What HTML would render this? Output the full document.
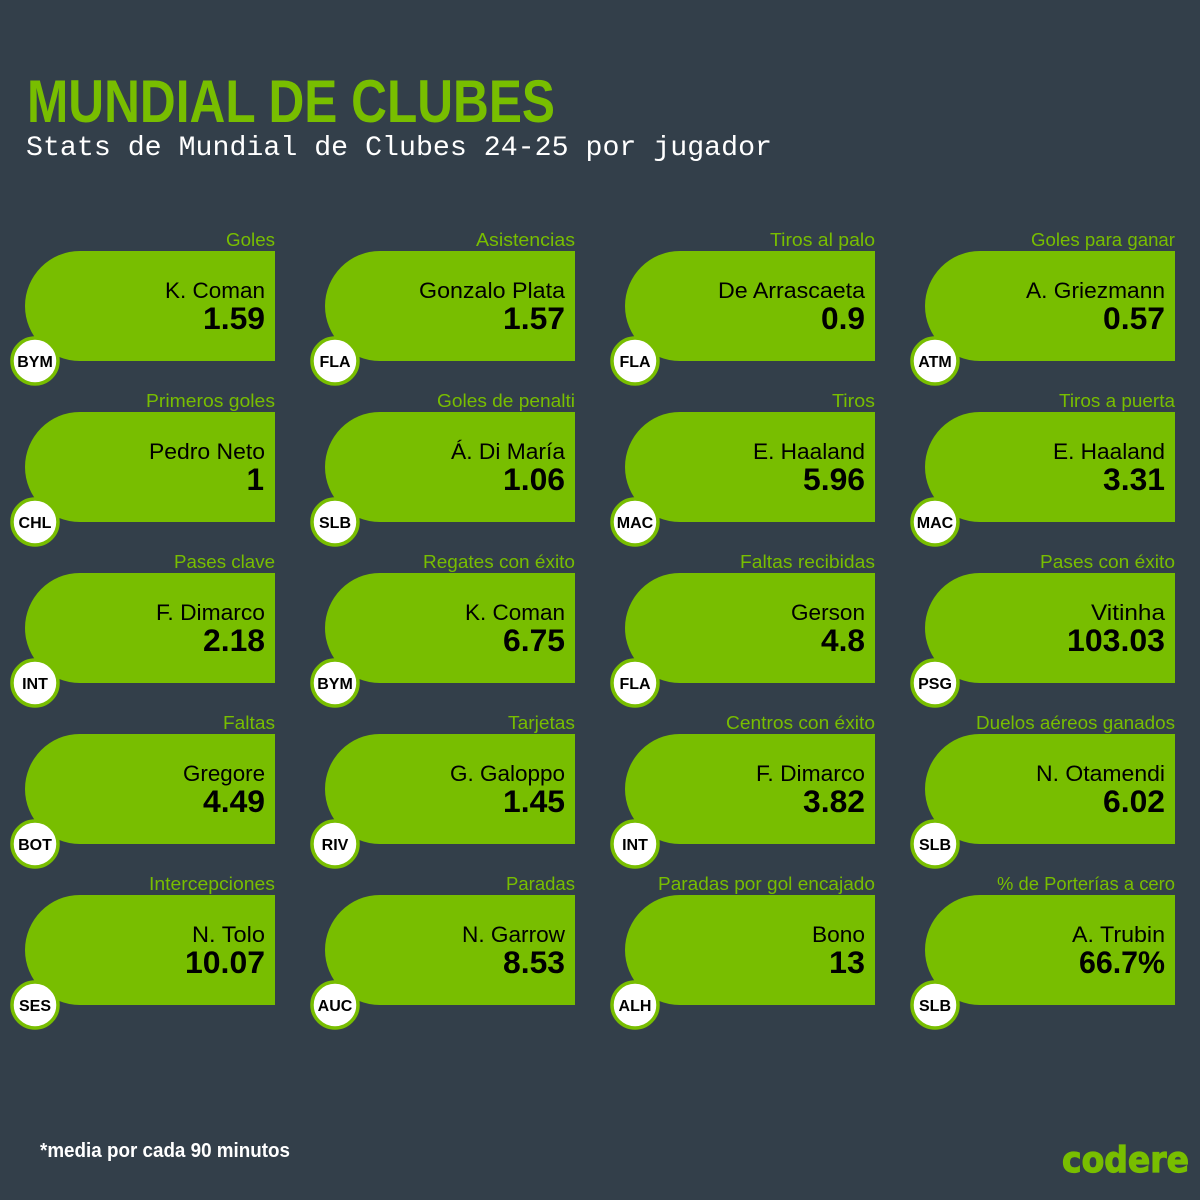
<!DOCTYPE html>
<html lang="es">
<head>
<meta charset="utf-8">
<title>Mundial de Clubes</title>
<style>
html,body{margin:0;padding:0;background:#333f4a;}
svg{display:block;}
text{font-family:"Liberation Sans",sans-serif;}
.lab{font-size:18.5px;fill:#78be00;text-anchor:end;}
.nam{font-size:22.5px;fill:#000;text-anchor:end;}
.val{font-size:31.5px;font-weight:bold;fill:#000;text-anchor:end;}
.tm{font-size:16px;font-weight:bold;fill:#000;text-anchor:middle;}
.bg{fill:#78be00;}
.bd{fill:#fff;stroke:#78be00;stroke-width:3.5;}
</style>
</head>
<body>
<svg width="1200" height="1200" viewBox="0 0 1200 1200" xmlns="http://www.w3.org/2000/svg">
<defs><path id="shape" d="M80 251H275V361H80A55 55 0 0 1 80 251Z"/></defs>
<rect width="1200" height="1200" fill="#333f4a"/>
<text x="27" y="122" font-size="60" font-weight="bold" fill="#78be00" textLength="528" lengthAdjust="spacingAndGlyphs">MUNDIAL DE CLUBES</text>
<text x="26" y="155" font-size="28" fill="#fff" style="font-family:'Liberation Mono',monospace" textLength="746" lengthAdjust="spacingAndGlyphs">Stats de Mundial de Clubes 24-25 por jugador</text>

<g transform="translate(0,0)"><text class="lab" x="275" y="246" textLength="49" lengthAdjust="spacingAndGlyphs">Goles</text><use href="#shape" class="bg"/><text class="nam" x="265" y="298" textLength="100" lengthAdjust="spacingAndGlyphs">K. Coman</text><text class="val" x="265" y="329" textLength="62" lengthAdjust="spacingAndGlyphs">1.59</text><circle class="bd" cx="35" cy="361" r="23"/><text class="tm" x="35" y="367">BYM</text></g>
<g transform="translate(300,0)"><text class="lab" x="275" y="246" textLength="99" lengthAdjust="spacingAndGlyphs">Asistencias</text><use href="#shape" class="bg"/><text class="nam" x="265" y="298" textLength="146" lengthAdjust="spacingAndGlyphs">Gonzalo Plata</text><text class="val" x="265" y="329" textLength="62" lengthAdjust="spacingAndGlyphs">1.57</text><circle class="bd" cx="35" cy="361" r="23"/><text class="tm" x="35" y="367">FLA</text></g>
<g transform="translate(600,0)"><text class="lab" x="275" y="246" textLength="105" lengthAdjust="spacingAndGlyphs">Tiros al palo</text><use href="#shape" class="bg"/><text class="nam" x="265" y="298" textLength="147" lengthAdjust="spacingAndGlyphs">De Arrascaeta</text><text class="val" x="265" y="329" textLength="44" lengthAdjust="spacingAndGlyphs">0.9</text><circle class="bd" cx="35" cy="361" r="23"/><text class="tm" x="35" y="367">FLA</text></g>
<g transform="translate(900,0)"><text class="lab" x="275" y="246" textLength="144" lengthAdjust="spacingAndGlyphs">Goles para ganar</text><use href="#shape" class="bg"/><text class="nam" x="265" y="298" textLength="139" lengthAdjust="spacingAndGlyphs">A. Griezmann</text><text class="val" x="265" y="329" textLength="62" lengthAdjust="spacingAndGlyphs">0.57</text><circle class="bd" cx="35" cy="361" r="23"/><text class="tm" x="35" y="367">ATM</text></g>

<g transform="translate(0,161)"><text class="lab" x="275" y="246" textLength="129" lengthAdjust="spacingAndGlyphs">Primeros goles</text><use href="#shape" class="bg"/><text class="nam" x="265" y="298" textLength="116" lengthAdjust="spacingAndGlyphs">Pedro Neto</text><text class="val" x="264" y="329">1</text><circle class="bd" cx="35" cy="361" r="23"/><text class="tm" x="35" y="367">CHL</text></g>
<g transform="translate(300,161)"><text class="lab" x="275" y="246" textLength="138" lengthAdjust="spacingAndGlyphs">Goles de penalti</text><use href="#shape" class="bg"/><text class="nam" x="265" y="298" textLength="114" lengthAdjust="spacingAndGlyphs">Á. Di María</text><text class="val" x="265" y="329" textLength="62" lengthAdjust="spacingAndGlyphs">1.06</text><circle class="bd" cx="35" cy="361" r="23"/><text class="tm" x="35" y="367">SLB</text></g>
<g transform="translate(600,161)"><text class="lab" x="275" y="246" textLength="43" lengthAdjust="spacingAndGlyphs">Tiros</text><use href="#shape" class="bg"/><text class="nam" x="265" y="298" textLength="112" lengthAdjust="spacingAndGlyphs">E. Haaland</text><text class="val" x="265" y="329" textLength="62" lengthAdjust="spacingAndGlyphs">5.96</text><circle class="bd" cx="35" cy="361" r="23"/><text class="tm" x="35" y="367">MAC</text></g>
<g transform="translate(900,161)"><text class="lab" x="275" y="246" textLength="116" lengthAdjust="spacingAndGlyphs">Tiros a puerta</text><use href="#shape" class="bg"/><text class="nam" x="265" y="298" textLength="112" lengthAdjust="spacingAndGlyphs">E. Haaland</text><text class="val" x="265" y="329" textLength="62" lengthAdjust="spacingAndGlyphs">3.31</text><circle class="bd" cx="35" cy="361" r="23"/><text class="tm" x="35" y="367">MAC</text></g>

<g transform="translate(0,322)"><text class="lab" x="275" y="246" textLength="101" lengthAdjust="spacingAndGlyphs">Pases clave</text><use href="#shape" class="bg"/><text class="nam" x="265" y="298" textLength="109" lengthAdjust="spacingAndGlyphs">F. Dimarco</text><text class="val" x="265" y="329" textLength="62" lengthAdjust="spacingAndGlyphs">2.18</text><circle class="bd" cx="35" cy="361" r="23"/><text class="tm" x="35" y="367">INT</text></g>
<g transform="translate(300,322)"><text class="lab" x="275" y="246" textLength="152" lengthAdjust="spacingAndGlyphs">Regates con éxito</text><use href="#shape" class="bg"/><text class="nam" x="265" y="298" textLength="100" lengthAdjust="spacingAndGlyphs">K. Coman</text><text class="val" x="265" y="329" textLength="62" lengthAdjust="spacingAndGlyphs">6.75</text><circle class="bd" cx="35" cy="361" r="23"/><text class="tm" x="35" y="367">BYM</text></g>
<g transform="translate(600,322)"><text class="lab" x="275" y="246" textLength="135" lengthAdjust="spacingAndGlyphs">Faltas recibidas</text><use href="#shape" class="bg"/><text class="nam" x="265" y="298" textLength="74" lengthAdjust="spacingAndGlyphs">Gerson</text><text class="val" x="265" y="329" textLength="44" lengthAdjust="spacingAndGlyphs">4.8</text><circle class="bd" cx="35" cy="361" r="23"/><text class="tm" x="35" y="367">FLA</text></g>
<g transform="translate(900,322)"><text class="lab" x="275" y="246" textLength="135" lengthAdjust="spacingAndGlyphs">Pases con éxito</text><use href="#shape" class="bg"/><text class="nam" x="265" y="298" textLength="74" lengthAdjust="spacingAndGlyphs">Vitinha</text><text class="val" x="265" y="329" textLength="98" lengthAdjust="spacingAndGlyphs">103.03</text><circle class="bd" cx="35" cy="361" r="23"/><text class="tm" x="35" y="367">PSG</text></g>

<g transform="translate(0,483)"><text class="lab" x="275" y="246" textLength="52" lengthAdjust="spacingAndGlyphs">Faltas</text><use href="#shape" class="bg"/><text class="nam" x="265" y="298" textLength="82" lengthAdjust="spacingAndGlyphs">Gregore</text><text class="val" x="265" y="329" textLength="62" lengthAdjust="spacingAndGlyphs">4.49</text><circle class="bd" cx="35" cy="361" r="23"/><text class="tm" x="35" y="367">BOT</text></g>
<g transform="translate(300,483)"><text class="lab" x="275" y="246" textLength="67" lengthAdjust="spacingAndGlyphs">Tarjetas</text><use href="#shape" class="bg"/><text class="nam" x="265" y="298" textLength="115" lengthAdjust="spacingAndGlyphs">G. Galoppo</text><text class="val" x="265" y="329" textLength="62" lengthAdjust="spacingAndGlyphs">1.45</text><circle class="bd" cx="35" cy="361" r="23"/><text class="tm" x="35" y="367">RIV</text></g>
<g transform="translate(600,483)"><text class="lab" x="275" y="246" textLength="149" lengthAdjust="spacingAndGlyphs">Centros con éxito</text><use href="#shape" class="bg"/><text class="nam" x="265" y="298" textLength="109" lengthAdjust="spacingAndGlyphs">F. Dimarco</text><text class="val" x="265" y="329" textLength="62" lengthAdjust="spacingAndGlyphs">3.82</text><circle class="bd" cx="35" cy="361" r="23"/><text class="tm" x="35" y="367">INT</text></g>
<g transform="translate(900,483)"><text class="lab" x="275" y="246" textLength="199" lengthAdjust="spacingAndGlyphs">Duelos aéreos ganados</text><use href="#shape" class="bg"/><text class="nam" x="265" y="298" textLength="129" lengthAdjust="spacingAndGlyphs">N. Otamendi</text><text class="val" x="265" y="329" textLength="62" lengthAdjust="spacingAndGlyphs">6.02</text><circle class="bd" cx="35" cy="361" r="23"/><text class="tm" x="35" y="367">SLB</text></g>

<g transform="translate(0,644)"><text class="lab" x="275" y="246" textLength="126" lengthAdjust="spacingAndGlyphs">Intercepciones</text><use href="#shape" class="bg"/><text class="nam" x="265" y="298" textLength="73" lengthAdjust="spacingAndGlyphs">N. Tolo</text><text class="val" x="265" y="329" textLength="80" lengthAdjust="spacingAndGlyphs">10.07</text><circle class="bd" cx="35" cy="361" r="23"/><text class="tm" x="35" y="367">SES</text></g>
<g transform="translate(300,644)"><text class="lab" x="275" y="246" textLength="69" lengthAdjust="spacingAndGlyphs">Paradas</text><use href="#shape" class="bg"/><text class="nam" x="265" y="298" textLength="103" lengthAdjust="spacingAndGlyphs">N. Garrow</text><text class="val" x="265" y="329" textLength="62" lengthAdjust="spacingAndGlyphs">8.53</text><circle class="bd" cx="35" cy="361" r="23"/><text class="tm" x="35" y="367">AUC</text></g>
<g transform="translate(600,644)"><text class="lab" x="275" y="246" textLength="217" lengthAdjust="spacingAndGlyphs">Paradas por gol encajado</text><use href="#shape" class="bg"/><text class="nam" x="265" y="298" textLength="53" lengthAdjust="spacingAndGlyphs">Bono</text><text class="val" x="265" y="329" textLength="36" lengthAdjust="spacingAndGlyphs">13</text><circle class="bd" cx="35" cy="361" r="23"/><text class="tm" x="35" y="367">ALH</text></g>
<g transform="translate(900,644)"><text class="lab" x="275" y="246" textLength="178" lengthAdjust="spacingAndGlyphs">% de Porterías a cero</text><use href="#shape" class="bg"/><text class="nam" x="265" y="298" textLength="93" lengthAdjust="spacingAndGlyphs">A. Trubin</text><text class="val" x="265" y="329" textLength="86" lengthAdjust="spacingAndGlyphs">66.7%</text><circle class="bd" cx="35" cy="361" r="23"/><text class="tm" x="35" y="367">SLB</text></g>

<text x="40" y="1157" font-size="20" font-weight="bold" fill="#fff" textLength="250" lengthAdjust="spacingAndGlyphs">*media por cada 90 minutos</text>
<text x="1062" y="1172" font-size="36" font-weight="bold" fill="#78be00" stroke="#78be00" stroke-width="1.2" style="font-family:'DejaVu Sans',sans-serif" textLength="127" lengthAdjust="spacingAndGlyphs">codere</text>
</svg>
</body>
</html>
